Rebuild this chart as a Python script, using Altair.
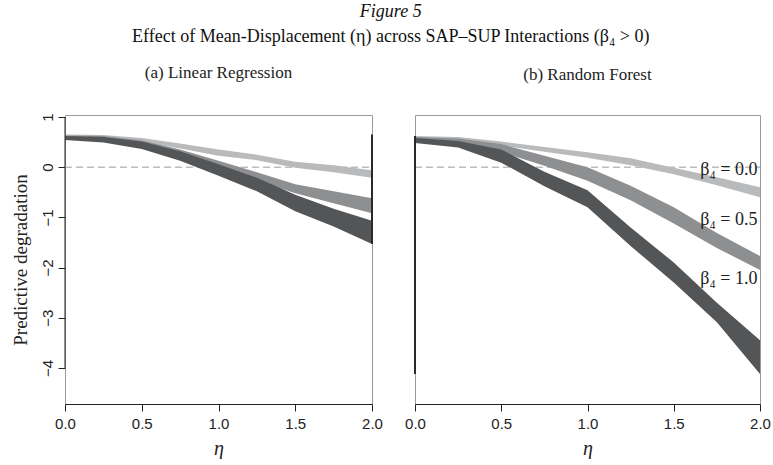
import altair as alt
import pandas as pd

# ---------------- data ----------------
eta = [0.0, 0.25, 0.5, 0.75, 1.0, 1.25, 1.5, 1.75, 2.0]
series = ["β₄ = 0.0", "β₄ = 0.5", "β₄ = 1.0"]
colors = ["#b9babc", "#8e8f91", "#545557"]

# (a) Linear Regression: band upper / lower
lr_b00_hi = [0.65, 0.64, 0.58, 0.47, 0.35, 0.25, 0.11, 0.04, -0.06]
lr_b00_lo = [0.59, 0.57, 0.50, 0.37, 0.23, 0.14, -0.01, -0.10, -0.21]
lr_b05_hi = [0.63, 0.62, 0.53, 0.35, 0.13, -0.10, -0.34, -0.48, -0.62]
lr_b05_lo = [0.56, 0.53, 0.41, 0.20, -0.03, -0.27, -0.52, -0.72, -0.92]
lr_b10_hi = [0.62, 0.60, 0.51, 0.32, 0.06, -0.21, -0.55, -0.83, -1.07]
lr_b10_lo = [0.54, 0.49, 0.36, 0.13, -0.17, -0.48, -0.88, -1.18, -1.53]

# (b) Random Forest: band upper / lower
rf_b00_hi = [0.62, 0.60, 0.51, 0.40, 0.30, 0.18, -0.01, -0.20, -0.40]
rf_b00_lo = [0.57, 0.53, 0.43, 0.31, 0.19, 0.04, -0.14, -0.36, -0.60]
rf_b05_hi = [0.60, 0.57, 0.46, 0.23, 0.00, -0.37, -0.80, -1.31, -1.77]
rf_b05_lo = [0.53, 0.47, 0.30, 0.03, -0.27, -0.66, -1.12, -1.61, -2.05]
rf_b10_hi = [0.58, 0.52, 0.35, -0.09, -0.46, -1.20, -1.90, -2.70, -3.45]
rf_b10_lo = [0.48, 0.39, 0.09, -0.38, -0.80, -1.57, -2.30, -3.09, -4.12]

# in-panel labels (panel b)
label_x = [1.985, 1.985, 1.985]
label_y = [-0.06, -1.06, -2.23]

x_ticks = [0.0, 0.5, 1.0, 1.5, 2.0]
y_ticks = [-4, -3, -2, -1, 0, 1]
x_domain = [0, 2]
y_domain = [-4.72, 1.04]

SERIF = "Liberation Serif"
SANS = "Liberation Sans"

xscale = alt.Scale(domain=x_domain, nice=False, zero=False)
yscale = alt.Scale(domain=y_domain, nice=False, zero=False)

xaxis = alt.Axis(values=x_ticks, format=".1f", title="η", grid=False,
                 domainColor="#222222", tickColor="#222222", tickSize=7,
                 labelPadding=5, labelFont=SANS, labelFontSize=15,
                 labelColor="#222222", titleFont=SERIF, titleFontStyle="italic",
                 titleFontWeight="normal", titleFontSize=20, titlePadding=7,
                 titleColor="#222222", labelFlush=False)
yaxis = alt.Axis(values=y_ticks, format="d", title="Predictive degradation",
                 grid=False, domain=False, tickColor="#222222", tickSize=7,
                 labelAngle=-90, labelAlign="center", labelBaseline="bottom",
                 labelPadding=3, labelFont=SANS, labelFontSize=15,
                 labelColor="#222222", titleFont=SERIF, titleFontWeight="normal",
                 titleFontSize=19, titlePadding=10, titleColor="#222222")


def band_df(his, los):
    rows = []
    for s, hi, lo in zip(series, his, los):
        for e, h, l in zip(eta, hi, lo):
            rows.append({"eta": e, "hi": h, "lo": l, "series": s})
    return pd.DataFrame(rows)


def panel(his, los, width, title, show_y, rule_at, with_labels):
    df = band_df(his, los)
    ya = yaxis if show_y else None
    layers = []
    zero = alt.Chart(pd.DataFrame({"eta": [x_domain[0]], "eta2": [x_domain[1]], "y": [0]})).mark_rule(
        color="#bdbdbd", strokeDash=[7, 4], strokeWidth=1.4
    ).encode(
        x=alt.X("eta:Q", scale=xscale, axis=xaxis),
        x2="eta2:Q",
        y=alt.Y("y:Q", scale=yscale, axis=ya),
    )
    layers.append(zero)
    for s, c in zip(series, colors):
        layers.append(
            alt.Chart(df[df.series == s]).mark_area(color=c, opacity=1, interpolate="linear").encode(
                x=alt.X("eta:Q", scale=xscale, axis=xaxis),
                y=alt.Y("hi:Q", scale=yscale, axis=ya),
                y2="lo:Q",
            )
        )
    vmin = min(min(l) for l in los)
    vmax = max(max(h) for h in his)
    layers.append(
        alt.Chart(pd.DataFrame({"eta": [rule_at], "a": [vmin], "b": [vmax]})).mark_rule(
            color="#2a2a2a", strokeWidth=2
        ).encode(
            x=alt.X("eta:Q", scale=xscale, axis=xaxis),
            y=alt.Y("a:Q", scale=yscale, axis=ya),
            y2="b:Q",
        )
    )
    if show_y:
        layers.append(
            alt.Chart(pd.DataFrame({"eta": [x_domain[0]], "a": [min(y_ticks)], "b": [max(y_ticks)]})).mark_rule(
                color="#222222", strokeWidth=1
            ).encode(
                x=alt.X("eta:Q", scale=xscale, axis=xaxis),
                y=alt.Y("a:Q", scale=yscale, axis=ya),
                y2="b:Q",
            )
        )
    if with_labels:
        ldf = pd.DataFrame({"eta": label_x, "y": label_y, "t": series})
        layers.append(
            alt.Chart(ldf).mark_text(align="right", baseline="middle", font=SERIF,
                                     fontSize=18, color="#222222").encode(
                x=alt.X("eta:Q", scale=xscale, axis=xaxis),
                y=alt.Y("y:Q", scale=yscale, axis=ya),
                text="t:N",
            )
        )
    return alt.layer(*layers).properties(
        width=width, height=289,
        title=alt.TitleParams(title, font=SERIF, fontSize=17, fontWeight="normal",
                              color="#222222", offset=31),
    )


left = panel([lr_b00_hi, lr_b05_hi, lr_b10_hi], [lr_b00_lo, lr_b05_lo, lr_b10_lo],
             307, "(a) Linear Regression", True, x_domain[1], False)
right = panel([rf_b00_hi, rf_b05_hi, rf_b10_hi], [rf_b00_lo, rf_b05_lo, rf_b10_lo],
              345, "(b) Random Forest", False, x_domain[0], True)

chart = alt.hconcat(left, right, spacing=43, bounds="flush").properties(
    title=alt.TitleParams(
        "Figure 5",
        subtitle="Effect of Mean-Displacement (η) across SAP–SUP Interactions (β₄ > 0)",
        anchor="middle", font=SERIF, fontSize=18, fontStyle="italic", fontWeight="normal",
        color="#111111", subtitleFont=SERIF, subtitleFontSize=18, subtitleColor="#111111",
        subtitlePadding=7, offset=17,
    ),
    padding={"left": 10, "top": 3, "right": 0, "bottom": 0},
    background="white",
).configure_view(stroke="#9a9a9a", strokeWidth=1)

chart.save("out.html", embed_options={"renderer": "svg", "actions": False})
